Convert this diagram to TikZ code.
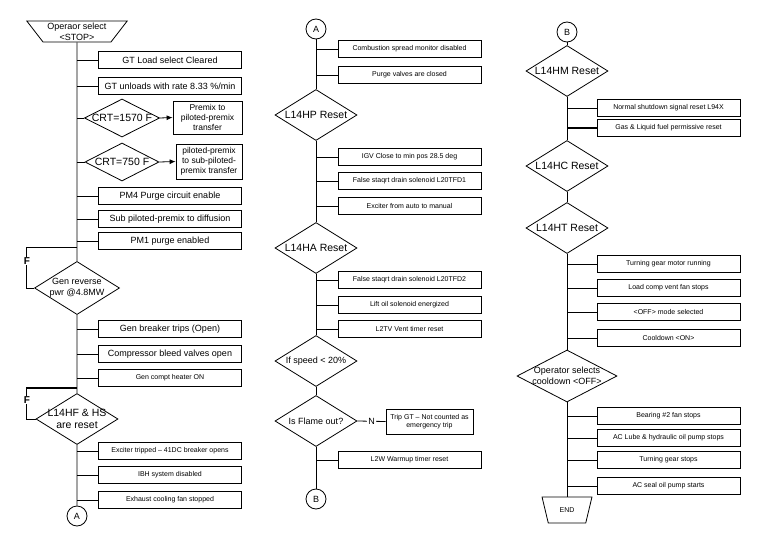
\documentclass[tikz,border=0pt]{standalone}
\usepackage{fontspec}
\setmainfont{Liberation Sans}
\usetikzlibrary{shapes.geometric,arrows.meta}

\begin{document}
\begin{tikzpicture}[
       x=1pt, y=-1pt,
       line width=0.8pt,
       task/.style={draw, minimum width=143pt, minimum height=16.5pt, inner sep=1pt, font=\fontsize{7}{8.4}\selectfont},
       bigtask/.style={task, font=\fontsize{9}{10.8}\selectfont},
       check/.style={diamond, draw, aspect=1.6, inner sep=0pt, minimum width=82pt, minimum height=51pt, align=center, font=\fontsize{10.5}{12.6}\selectfont},
       smallcheck/.style={check, font=\fontsize{9}{10.8}\selectfont},
       crt/.style={check, aspect=2, minimum width=74pt, minimum height=38pt, font=\fontsize{10.5}{12.6}\selectfont},
       note/.style={draw, align=center, inner sep=1pt, font=\fontsize{8.5}{10}\selectfont},
       link/.style={circle, draw, minimum size=20pt, inner sep=0pt, font=\fontsize{9}{10.8}\selectfont},
       term/.style={trapezium, draw, shape border rotate=180, trapezium stretches=true, inner sep=0pt, align=center},
       flag/.style={fill=white, inner sep=1pt, font=\fontsize{9}{10.8}\selectfont},
       flow/.style={-{Latex[length=6pt, width=5pt]}}
   ]

   \useasboundingbox (0, 0) rectangle (768, 543);

   % left column
   \node[term, trapezium angle=51, minimum width=101pt, minimum height=21pt, font=\fontsize{9}{10.8}\selectfont] (stop) at (77, 31.5) {Operaor select\\<STOP>};
   \node[smallcheck] (rev) at (77, 288) {Gen reverse\\pwr @4.8MW};
   \node[check, inner sep=-3pt] (hf) at (77, 419) {L14HF \& HS\\are reset};
   \node[link] (a1) at (77, 516) {A};
   \draw (stop) -- (rev) -- (hf) -- (a1);

   \foreach \name/\y/\txt in {gtl/60/GT Load select Cleared, unl/86/{GT unloads with rate 8.33 \%/min}, pm4/196/PM4 Purge circuit enable, sub/219/Sub piloted-premix to diffusion, pm1/241/PM1 purge enabled, gbt/329/Gen breaker trips (Open), cbv/354/Compressor bleed valves open} {
       \node[bigtask] (\name) at (170, \y) {\txt};
       \draw (\name.west) -- (\name.west -| stop.south);
   }

   \foreach \name/\y/\txt in {gch/378/Gen compt heater ON, exc/451/{Exciter tripped -- 41DC breaker opens}, ibh/475/IBH system disabled, exh/500/Exhaust cooling fan stopped} {
       \node[task] (\name) at (170, \y) {\txt};
       \draw (\name.west) -- (\name.west -| stop.south);
   }

   \node[crt] (crt1) at (122, 118) {CRT=1570 F};
   \node[crt] (crt2) at (122, 162) {CRT=750 F};
   \node[note, minimum width=69pt, minimum height=33pt] (pre1) at (207.5, 117.5) {Premix to\\piloted-premix\\transfer};
   \node[note, minimum width=66pt, minimum height=35pt] (pre2) at (209, 161.5) {piloted-premix\\to sub-piloted-\\premix transfer};
   \draw (crt1.west) -- (crt1.west -| stop.south);
   \draw (crt2.west) -- (crt2.west -| stop.south);
   \draw[flow] (crt1.east) -- (pre1.west);
   \draw[flow] (crt2.east) -- (pre2.west);

   % false loops
   \coordinate (f1) at (26, 247);
   \coordinate (f2) at (26, 388);
   \draw (rev.west) -| (f1) -- (f1 -| rev.north);
   \draw (hf.west) -| (f2);
   \draw[line width=1.6pt] (f2) -- (f2 -| hf.north);
   \node[flag, font=\fontsize{10}{12}\selectfont\bfseries] (f1lab) at (27, 261) {F};
   \node[flag, font=\fontsize{10}{12}\selectfont\bfseries] (f2lab) at (27, 400) {F};

   % middle column
   \node[link] (a2) at (316, 29) {A};
   \node[check] (hp) at (316, 115) {L14HP Reset};
   \node[check] (ha) at (316, 248) {L14HA Reset};
   \node[smallcheck] (spd) at (316, 361) {If speed < 20\%};
   \node[smallcheck] (fo) at (316, 421) {Is Flame out?};
   \node[link] (b1) at (316, 499) {B};
   \draw (a2) -- (hp) -- (ha) -- (spd) -- (fo) -- (b1);

   \foreach \name/\y/\txt in {csm/49/Combustion spread monitor disabled, pvc/75/Purge valves are closed, igv/157/IGV Close to min pos 28.5 deg, fsa/181/False staqrt drain solenoid L20TFD1, exm/206/Exciter from auto to manual, fsb/280/False staqrt drain solenoid L20TFD2, lft/305/Lift oil solenoid energized, vnt/329/L2TV Vent timer reset, wrm/460/L2W Warmup timer reset} {
       \node[task] (\name) at (409.5, \y) {\txt};
       \draw (\name.west) -- (\name.west -| a2.south);
   }

   \node[task, minimum width=87pt, minimum height=25pt, align=center] (trip) at (429.5, 421.5) {Trip GT -- Not counted as\\emergency trip};
   \draw (fo.east) -- node[flag] (no) {N} (trip.west);

   % right column
   \node[link] (b2) at (567, 32) {B};
   \node[check] (hm) at (567, 71) {L14HM Reset};
   \node[check] (hc) at (567, 166) {L14HC Reset};
   \node[check] (ht) at (567, 228) {L14HT Reset};
   \node[smallcheck, aspect=1.9, inner sep=-2pt, minimum width=100pt, minimum height=52pt] (ops) at (567, 376) {Operator selects\\cooldown <OFF>};
   \node[term, trapezium angle=63, minimum width=50pt, minimum height=26pt, font=\fontsize{7}{8.4}\selectfont] (end) at (567, 510) {END};
   \draw (b2) -- (hm) -- (hc) -- (ht) -- (ops) -- (end);

   \foreach \name/\y/\txt in {nsd/108/Normal shutdown signal reset L94X, tgm/264/Turning gear motor running, lcv/288/Load comp vent fan stops, off/312/<OFF> mode selected, cdn/338/Cooldown <ON>, brg/416/Bearing \#2 fan stops, acl/438/AC Lube \& hydraulic oil pump stops, tgs/460/Turning gear stops, aso/486/AC seal oil pump starts} {
       \node[task] (\name) at (668.5, \y) {\txt};
       \draw (\name.west) -- (\name.west -| b2.south);
   }
   \node[task] (gas) at (668.5, 128) {Gas \& Liquid fuel permissive reset};
   \draw[line width=1.6pt] (gas.west) -- (gas.west -| b2.south);

\end{tikzpicture}
\end{document}
